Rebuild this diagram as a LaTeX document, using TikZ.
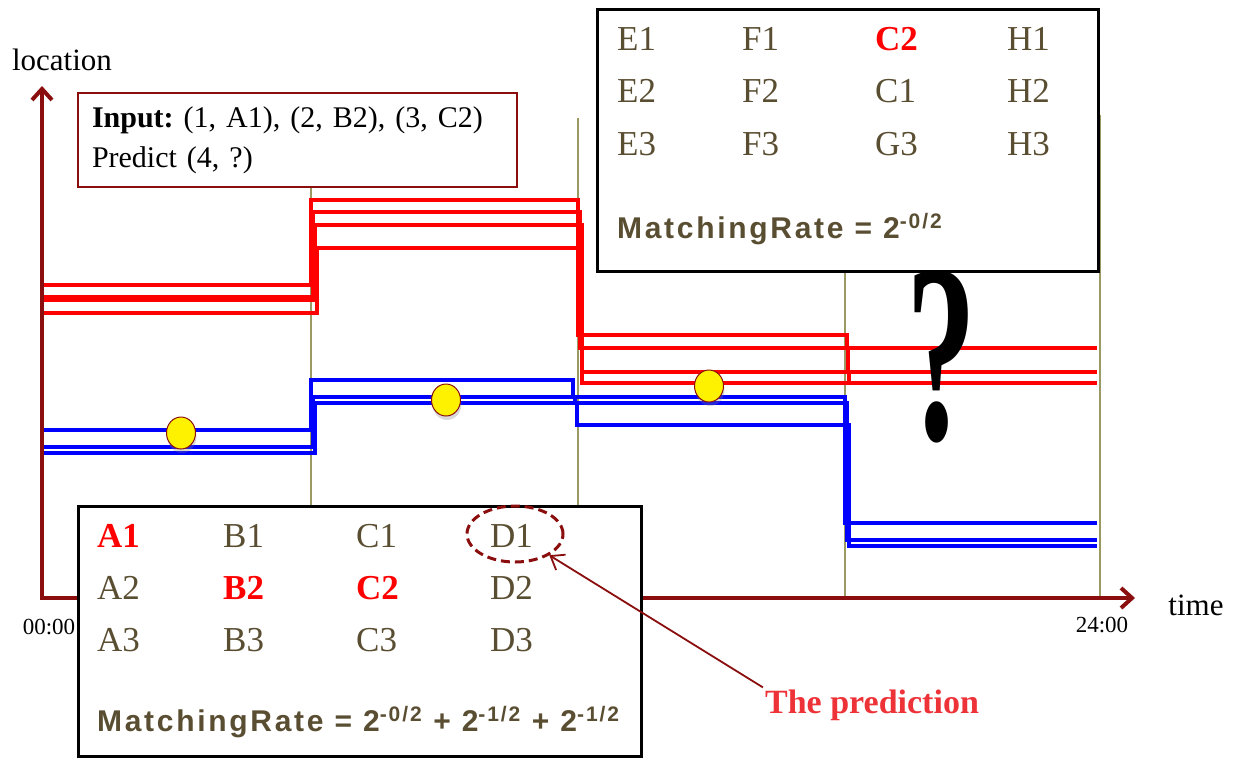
\documentclass[tikz,border=0pt]{standalone}
\usepackage{fontspec}
\setmainfont{Liberation Serif}
\newfontfamily\ratefont[LetterSpace=9]{Liberation Sans}
\usepackage{xcolor}
\usepackage{tikz}
\usetikzlibrary{arrows.meta, positioning, shapes.geometric, shadows}
\definecolor{axisred}{HTML}{8B0E0E}
\definecolor{gridolive}{HTML}{9A9A62}
\definecolor{cellbrown}{HTML}{5A4E32}
\definecolor{predred}{HTML}{EE3338}
\definecolor{trackred}{HTML}{FF0000}
\definecolor{trackblue}{HTML}{0000FF}
\frenchspacing

\tikzset{
  track/.style={line width=3.5pt},
  slotline/.style={gridolive, line width=2pt},
  axisline/.style={axisred, line width=4pt, line join=miter, {Straight Barb[length=11pt, width=20pt]}-{Straight Barb[length=11pt, width=20pt]}},
  visit/.style={ellipse, draw=axisred, line width=1pt, fill=yellow, minimum width=29pt, minimum height=32pt, inner sep=0pt,
    drop shadow={shadow xshift=1pt, shadow yshift=-4pt, opacity=0.3}},
  panel/.style={draw=black, line width=2.5pt, fill=white, anchor=north west, inner sep=0pt},
  cell/.style={anchor=base west, inner sep=0pt, text=cellbrown, font=\fontsize{35}{35}\selectfont},
  hit/.style={cell, text=trackred, font=\fontsize{35}{35}\selectfont\bfseries},
  rate/.style={anchor=base west, inner sep=0pt, text=cellbrown, font=\ratefont\bfseries\fontsize{30}{30}\selectfont},
  ring/.style={ellipse, draw=axisred, line width=3pt, dash pattern=on 9pt off 5pt, minimum width=96pt, minimum height=56pt},
}

\begin{document}
\begin{tikzpicture}[x=1pt, y=-1pt, font=\fontsize{31}{31}\selectfont]
    \useasboundingbox (0,0) rectangle (1234,758);

    % Time slots
    \draw[slotline] (311,118) -- (311,598);
    \draw[slotline] (578,118) -- (578,598);
    \draw[slotline] (845,118) -- (845,598);
    \draw[slotline] (1100,115) -- (1100,598);

    % Red trajectories
    \draw[track, trackred] (44,285) -| (311,200) -| (578,335) -| (847,348) -- (1097,348);
    \draw[track, trackred] (44,297) -| (313,212) -| (580,348) -| (848,372) -- (1097,372);
    \draw[track, trackred] (44,300) -| (315,225) -| (582,372) -| (849,383) -- (1097,383);
    \draw[track, trackred] (44,313) -| (317,248) -| (582,383) -- (1097,383);

    % Blue trajectories
    \draw[track, trackblue] (44,430) -| (311,380) -| (573,397) -| (845,523) -- (1097,523);
    \draw[track, trackblue] (44,447) -| (313,397) -| (575,403) -| (847,540) -- (1097,540);
    \draw[track, trackblue] (44,453) -| (315,403) -| (577,425) -| (849,546) -- (1097,546);

    % Observed points
    \node[visit] (p1) at (181,433) {};
    \node[visit] (p2) at (446,400) {};
    \node[visit] (p3) at (709,386) {};

    % Axes
    \coordinate (origin) at (42,598);
    \coordinate (ytip) at (42,86);
    \coordinate (xtip) at (1135,598);
    \draw[axisline] (ytip) -- (origin) -- (xtip);
    \node (loclabel) at (62,60) {location};
    \node (timelabel) at (1196,605) {time};
    \node[font=\fontsize{23}{23}\selectfont] (tstart) at (49,627) {00:00};
    \node[font=\fontsize{23}{23}\selectfont] (tend) at (1102,625) {24:00};

    % Question
    \node[draw=axisred, line width=2pt, fill=white, anchor=north west, minimum width=439pt, minimum height=94pt,
      inner xsep=14pt, text width=411pt, align=left, font=\fontsize{30}{40}\selectfont] (inbox) at (77,92)
      {\textbf{Input:} (1, A1), (2, B2), (3, C2)\\Predict (4, ?)};
    \node[font=\fontsize{255}{255}\selectfont\bfseries, xscale=0.55] (qmark) at (942,357) {?};

    % Candidate table, slot 4
    \node[panel, minimum width=501pt, minimum height=262pt] (slotbox) at (596,8) {};
    \node[cell] (e1) at (617,50) {E1};
    \node[cell] (f1) at (742,50) {F1};
    \node[hit] (c2top) at (875,50) {C2};
    \node[cell] (h1) at (1007,50) {H1};
    \node[cell] (e2) at (617,102) {E2};
    \node[cell] (f2) at (742,102) {F2};
    \node[cell] (c1top) at (875,102) {C1};
    \node[cell] (h2) at (1007,102) {H2};
    \node[cell] (e3) at (617,155) {E3};
    \node[cell] (f3) at (742,155) {F3};
    \node[cell] (g3) at (875,155) {G3};
    \node[cell] (h3) at (1007,155) {H3};
    \node[rate] (toprate) at (617,238) {MatchingRate = 2\textsuperscript{-0/2}};

    % Candidate table, slots 1-3
    \node[panel, minimum width=563pt, minimum height=250pt] (gridbox) at (77,505) {};
    \node[hit] (a1) at (97,547) {A1};
    \node[cell] (b1) at (223,547) {B1};
    \node[cell] (c1) at (356,547) {C1};
    \node[cell] (d1) at (490,547) {D1};
    \node[cell] (a2) at (97,599) {A2};
    \node[hit] (b2) at (223,599) {B2};
    \node[hit] (c2) at (356,599) {C2};
    \node[cell] (d2) at (490,599) {D2};
    \node[cell] (a3) at (97,651) {A3};
    \node[cell] (b3) at (223,651) {B3};
    \node[cell] (c3) at (356,651) {C3};
    \node[cell] (d3) at (490,651) {D3};
    \node[rate] (gridrate) at (97,731)
      {MatchingRate = 2\textsuperscript{-0/2} + 2\textsuperscript{-1/2} + 2\textsuperscript{-1/2}};

    % Prediction
    \node[ring] (d1ring) at (515,534) {};
    \node[font=\fontsize{34}{34}\selectfont\bfseries, text=predred, inner sep=2pt] (pred) at (872,705) {The prediction};
    \draw[-{Straight Barb[length=12pt, width=18pt]}, axisred, line width=1.8pt] (pred.north west) -- (d1ring);
\end{tikzpicture}
\end{document}
